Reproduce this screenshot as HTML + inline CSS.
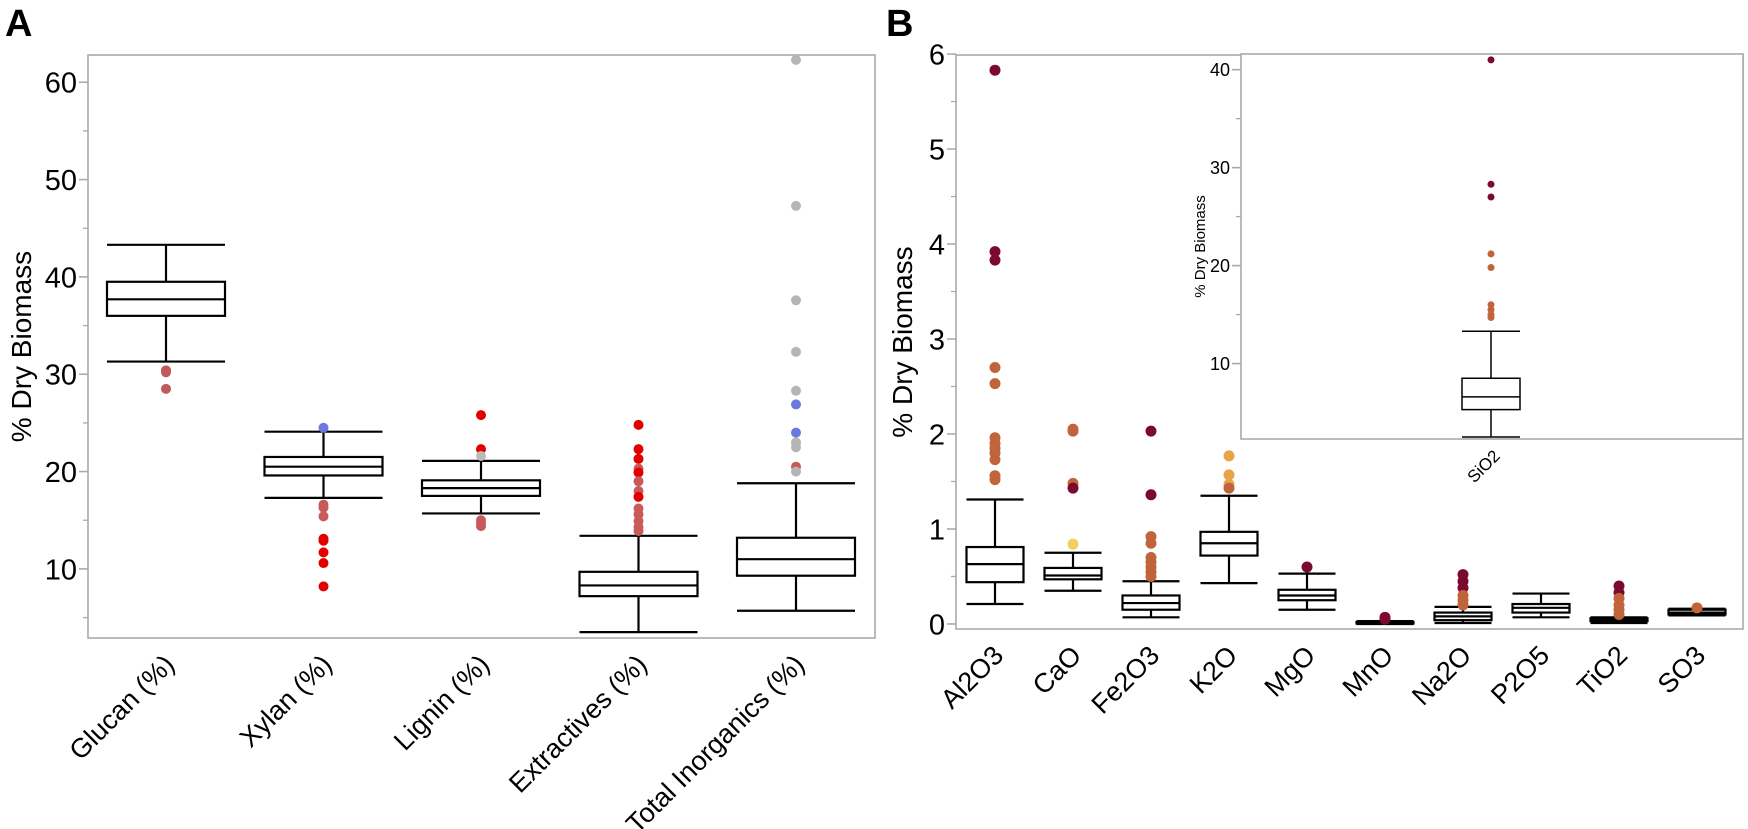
<!DOCTYPE html>
<html><head><meta charset="utf-8">
<style>
html,body{margin:0;padding:0;background:#fff;}
svg{display:block;font-family:"Liberation Sans","DejaVu Sans",sans-serif;}
</style></head>
<body>
<svg id="fig" width="1748" height="829" viewBox="0 0 1748 829" xmlns="http://www.w3.org/2000/svg">
<text x="5" y="36" font-size="38" font-weight="bold" font-family="Liberation Sans, sans-serif">A</text>
<text x="886" y="36" font-size="38" font-weight="bold" font-family="Liberation Sans, sans-serif">B</text>
<g id="pa"></g>
<g id="pb"></g>
<g id="pi"></g>
</svg>
<script>
// Panel A data
const catsA = ["Glucan (%)","Xylan (%)","Lignin (%)","Extractives (%)","Total Inorganics (%)"];
const loA = [31.3,17.3,15.7,3.5,5.7];
const q1A = [36.0,19.6,17.5,7.2,9.3];
const medA = [37.7,20.5,18.3,8.3,11.0];
const q3A = [39.5,21.5,19.1,9.7,13.2];
const hiA = [43.3,24.1,21.1,13.4,18.8];
const outA = [
 [[30.4,"#c05a5a"],[30.2,"#c05a5a"],[28.5,"#c05a5a"]],
 [[24.5,"#6a78e0"],[16.6,"#c85a5a"],[16.3,"#c85a5a"],[15.4,"#c85a5a"],[13.1,"#e00000"],[12.9,"#e00000"],[11.7,"#e00000"],[10.6,"#e00000"],[8.2,"#e00000"]],
 [[25.8,"#e00000"],[22.3,"#e00000"],[21.6,"#bbbbbb"],[15.0,"#c85a5a"],[14.7,"#c85a5a"],[14.4,"#c85a5a"]],
 [[24.8,"#e00000"],[22.3,"#e00000"],[21.3,"#e00000"],[20.3,"#c85a5a"],[19.9,"#e00000"],[19.0,"#c85a5a"],[18.0,"#c85a5a"],[17.4,"#e00000"],[16.2,"#c85a5a"],[15.6,"#c85a5a"],[14.9,"#c85a5a"],[14.3,"#c85a5a"],[13.9,"#c85a5a"]],
 [[62.3,"#b5b5b5"],[47.3,"#b5b5b5"],[37.6,"#b5b5b5"],[32.3,"#b5b5b5"],[28.3,"#b5b5b5"],[26.9,"#6a78e0"],[24.0,"#6a78e0"],[23.0,"#b5b5b5"],[22.5,"#b5b5b5"],[20.5,"#c85a5a"],[20.0,"#b5b5b5"]]
];
const ticksA = [10,20,30,40,50,60];
// Panel B data
const catsB = ["Al2O3","CaO","Fe2O3","K2O","MgO","MnO","Na2O","P2O5","TiO2","SO3"];
const loB = [0.21,0.35,0.07,0.43,0.15,0.0,0.01,0.07,0.01,0.09];
const q1B = [0.44,0.47,0.15,0.72,0.25,0.005,0.04,0.12,0.03,0.10];
const medB = [0.63,0.51,0.22,0.85,0.30,0.01,0.08,0.17,0.05,0.12];
const q3B = [0.81,0.59,0.30,0.97,0.36,0.02,0.12,0.21,0.06,0.15];
const hiB = [1.31,0.75,0.45,1.35,0.53,0.03,0.18,0.32,0.07,0.16];
const D="#7b0a2e",O="#c0643c",Y="#e6a648",L="#f0d060";
const outB = [
 [[5.83,D],[3.92,D],[3.83,D],[2.70,O],[2.53,O],[1.96,O],[1.90,O],[1.85,O],[1.80,O],[1.73,O],[1.56,O],[1.52,O]],
 [[2.05,O],[2.03,O],[1.48,O],[1.43,D],[0.84,L]],
 [[2.03,D],[1.36,D],[0.92,O],[0.85,O],[0.70,O],[0.65,O],[0.60,O],[0.55,O],[0.50,O]],
 [[1.77,Y],[1.57,Y],[1.47,Y],[1.43,O]],
 [[0.60,D]],
 [[0.07,D],[0.05,D]],
 [[0.52,D],[0.45,D],[0.38,D],[0.30,O],[0.25,O],[0.20,O]],
 [],
 [[0.40,D],[0.33,D],[0.27,O],[0.20,O],[0.15,O],[0.10,O]],
 [[0.17,O]]
];
const ticksB = [0,1,2,3,4,5,6];
// Inset data
const catsI = ["SiO2"];
const loI=[2.5],q1I=[5.3],medI=[6.6],q3I=[8.5],hiI=[13.3];
const outI=[[[41.0,D],[28.3,D],[27.0,D],[21.2,O],[19.8,O],[16.0,O],[15.5,O],[15.0,O],[14.7,O]]];
const ticksI=[10,20,30,40];

const NS="http://www.w3.org/2000/svg";
function mk(p,tag,a){const e=document.createElementNS(NS,tag);for(const k in a)e.setAttribute(k,a[k]);p.appendChild(e);return e;}

function panel(g,cfg){
  const {x0,x1,y0,y1,vmin,vmax,cats,lo,q1,med,q3,hi,outs,ticks,minor,bw,r,tfs,lw,title,titleX,titleFs,labFs,labRot,labDy,pre,first,step}=cfg;
  const ys=v=>y1-(v-vmin)/(vmax-vmin)*(y1-y0);
  const xs=i=>first+step*i;
  const frame=mk(g,"rect",{x:x0,y:y0,width:x1-x0,height:y1-y0,fill:"none",stroke:"#aaa","stroke-width":1.6});
  
  
  minor.forEach(v=>{const t=mk(g,"line",{x1:x0-5,x2:x0,y1:ys(v),y2:ys(v),stroke:"#aaa","stroke-width":1.3});
    
    });
  ticks.forEach(v=>{
    const t=mk(g,"line",{x1:x0-9,x2:x0,y1:ys(v),y2:ys(v),stroke:"#aaa","stroke-width":1.6});
    
    
    const l=mk(g,"text",{x:x0-11,y:ys(v)+tfs*0.36,"text-anchor":"end","font-size":tfs,fill:"#000"});
    l.textContent=v;
    
    
  });
  const tt=mk(g,"text",{x:0,y:0,transform:`translate(${titleX},${(y0+y1)/2}) rotate(-90)`,"text-anchor":"middle","font-size":titleFs,fill:"#000"});
  tt.textContent=title;
  
  
  cats.forEach((c,i)=>{
    const cx=xs(i),h=bw/2;
    const grp=mk(g,"g",{});
    
    
    const st={stroke:"#000","stroke-width":lw,fill:"none"};
    mk(grp,"line",Object.assign({x1:cx,x2:cx,y1:ys(lo[i]),y2:ys(q1[i])},st));
    mk(grp,"line",Object.assign({x1:cx,x2:cx,y1:ys(q3[i]),y2:ys(hi[i])},st));
    mk(grp,"line",Object.assign({x1:cx-h,x2:cx+h,y1:ys(lo[i]),y2:ys(lo[i])},st));
    mk(grp,"line",Object.assign({x1:cx-h,x2:cx+h,y1:ys(hi[i]),y2:ys(hi[i])},st));
    mk(grp,"rect",Object.assign({x:cx-h,y:ys(q3[i]),width:bw,height:Math.max(1,ys(q1[i])-ys(q3[i]))},st));
    mk(grp,"line",Object.assign({x1:cx-h,x2:cx+h,y1:ys(med[i]),y2:ys(med[i])},st));
    outs[i].forEach(o=>{const d=mk(grp,"circle",{cx:cx,cy:ys(o[0]),r:r,fill:o[1]});
      
      });
    const lx=cx+10, ly=y1+labDy;
    const lt=mk(g,"text",{x:lx,y:ly,transform:`rotate(${labRot} ${lx} ${ly})`,"text-anchor":"end","font-size":labFs,fill:"#000"});
    lt.textContent=c;
    
    
  });
}
const ga=document.getElementById("pa"),gb=document.getElementById("pb"),gi=document.getElementById("pi");
panel(ga,{x0:88,x1:875,y0:55,y1:638,vmin:2.9,vmax:62.8,cats:catsA,lo:loA,q1:q1A,med:medA,q3:q3A,hi:hiA,outs:outA,ticks:ticksA,minor:[5,15,25,35,45,55],bw:118,r:5,tfs:29,lw:2.2,title:"% Dry Biomass",titleX:31,titleFs:28,labFs:27,labRot:-45,labDy:28,pre:"panel-a",first:166,step:157.5});
panel(gb,{x0:956,x1:1743,y0:55,y1:629,vmin:-0.053,vmax:5.99,cats:catsB,lo:loB,q1:q1B,med:medB,q3:q3B,hi:hiB,outs:outB,ticks:ticksB,minor:[0.5,1.5,2.5,3.5,4.5,5.5],bw:57,r:5.5,tfs:29,lw:2.2,title:"% Dry Biomass",titleX:912,titleFs:28,labFs:27,labRot:-45,labDy:28,pre:"panel-b",first:995,step:78});
mk(gi,"rect",{x:1241,y:54,width:502,height:385,fill:"#fff"});
panel(gi,{x0:1241,x1:1743,y0:54,y1:439,vmin:2.3,vmax:41.6,cats:catsI,lo:loI,q1:q1I,med:medI,q3:q3I,hi:hiI,outs:outI,ticks:ticksI,minor:[15,25,35],bw:58,r:3.5,tfs:18,lw:1.5,title:"% Dry Biomass",titleX:1205,titleFs:15,labFs:17,labRot:-45,labDy:18,pre:"inset",first:1491,step:0});
</script>
</body></html>
